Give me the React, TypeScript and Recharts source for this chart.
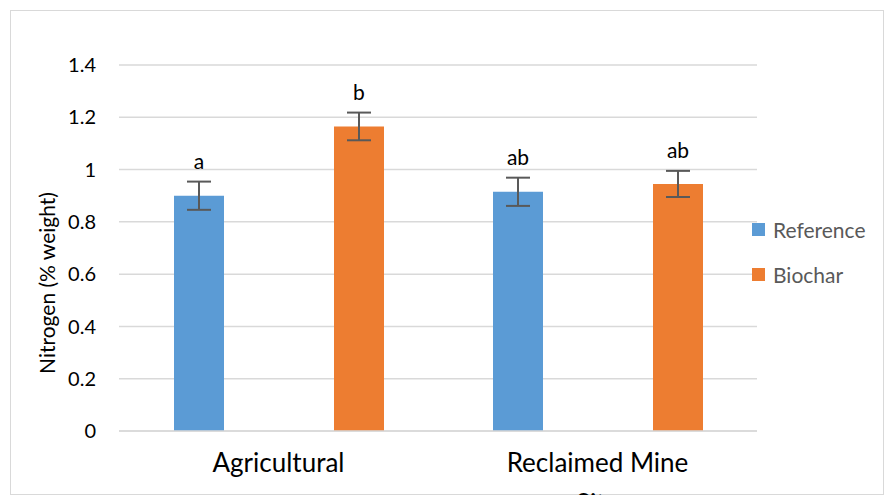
import React from "react"
import { BarChart, Bar, XAxis, YAxis, CartesianGrid, ErrorBar, LabelList, Label } from "recharts"

// values
const categories = ["Agricultural", "Reclaimed Mine Site"]
const referenceValues = [0.9, 0.915]
const biocharValues = [1.165, 0.945]
const referenceErrors = [0.054, 0.054]
const biocharErrors = [0.053, 0.05]
const referenceLetters = ["a", "ab"]
const biocharLetters = ["b", "ab"]
const yTicks = [0, 0.2, 0.4, 0.6, 0.8, 1, 1.2, 1.4]

const series = [
  { key: "reference", name: "Reference", color: "#5b9bd5" },
  { key: "biochar", name: "Biochar", color: "#ed7d31" },
]

const data = categories.map((name, i) => ({
  name,
  reference: referenceValues[i],
  referenceErr: referenceErrors[i],
  referenceLetter: referenceLetters[i],
  biochar: biocharValues[i],
  biocharErr: biocharErrors[i],
  biocharLetter: biocharLetters[i],
}))

const FONT = "Lato, 'Open Sans', sans-serif"

// letter sits above the top of the error bar
const letterLabel = (values: number[], errors: number[]) => (props: any) => {
  const { x, y, width, height, value, index } = props
  const errPx = (errors[index] * height) / values[index]
  return (
    <text
      x={x + width / 2}
      y={y - errPx - 13}
      textAnchor="middle"
      fontSize={21}
      fontFamily={FONT}
      fill="#000"
    >
      {value}
    </text>
  )
}

const CategoryTick = (props: any) => {
  const { x, y, payload } = props
  const words = String(payload.value).split(" ")
  const lines: string[] = []
  let cur = ""
  words.forEach((w) => {
    const next = cur ? cur + " " + w : w
    if (next.length > 14 && cur) {
      lines.push(cur)
      cur = w
    } else {
      cur = next
    }
  })
  if (cur) lines.push(cur)
  return (
    <text x={x} y={y + 41} textAnchor="middle" fontSize={26} fontFamily={FONT} fill="#000">
      {lines.map((l, i) => (
        <tspan key={i} x={x} dy={i === 0 ? 0 : 41}>
          {l}
        </tspan>
      ))}
    </text>
  )
}

export default function App() {
  return (
    <div style={{ position: "absolute", left: 0, top: 0, width: 884, height: 495, background: "#fff", overflow: "hidden" }}>
      <div
        style={{
          position: "absolute",
          left: 10,
          top: 10,
          width: 872,
          height: 483,
          border: "1px solid #d9d9d9",
        }}
      />
      <div style={{ position: "absolute", left: 0, top: 0 }}>
        <BarChart
          width={884}
          height={495}
          data={data}
          margin={{ top: 65, right: 127, bottom: 34, left: 19 }}
          barSize={50}
          barGap={110}
        >
          <CartesianGrid vertical={false} stroke="#d9d9d9" strokeWidth={1.5} />
          <XAxis
            dataKey="name"
            height={30}
            axisLine={{ stroke: "#d9d9d9", strokeWidth: 1.5 }}
            tickLine={false}
            tickSize={0}
            tickMargin={0}
            interval={0}
            tick={<CategoryTick />}
          />
          <YAxis
            width={100}
            domain={[0, 1.4]}
            ticks={yTicks}
            axisLine={false}
            tickLine={false}
            tickSize={0}
            tickMargin={23}
            tick={{ fontSize: 20, fontFamily: FONT, fill: "#000" }}
          >
            <Label
              content={(p: any) => {
                const vb = p.viewBox
                const cx = vb.x + 27
                const cy = vb.y + vb.height / 2 + 35
                return (
                  <text
                    x={cx}
                    y={cy}
                    transform={`rotate(-90 ${cx} ${cy})`}
                    textAnchor="middle"
                    dominantBaseline="central"
                    fontSize={21}
                    fontFamily={FONT}
                    fill="#000"
                  >
                    Nitrogen (% weight)
                  </text>
                )
              }}
            />
          </YAxis>
          <Bar dataKey="reference" name="Reference" fill={series[0].color} isAnimationActive={false}>
            <ErrorBar dataKey="referenceErr" width={12} stroke="#595959" strokeWidth={2} direction="y" isAnimationActive={false} />
            <LabelList dataKey="referenceLetter" content={letterLabel(referenceValues, referenceErrors)} />
          </Bar>
          <Bar dataKey="biochar" name="Biochar" fill={series[1].color} isAnimationActive={false}>
            <ErrorBar dataKey="biocharErr" width={12} stroke="#595959" strokeWidth={2} direction="y" isAnimationActive={false} />
            <LabelList dataKey="biocharLetter" content={letterLabel(biocharValues, biocharErrors)} />
          </Bar>
        </BarChart>
      </div>
      {/* legend on the right */}
      <div style={{ position: "absolute", left: 752, top: 216, fontFamily: FONT, fontSize: 21, color: "#595959" }}>
        {series.map((s) => (
          <div key={s.key} style={{ display: "flex", alignItems: "center", height: 27, marginBottom: 18 }}>
            <span style={{ width: 13, height: 13, background: s.color, display: "inline-block", marginRight: 8 }} />
            <span>{s.name}</span>
          </div>
        ))}
      </div>
    </div>
  )
}
